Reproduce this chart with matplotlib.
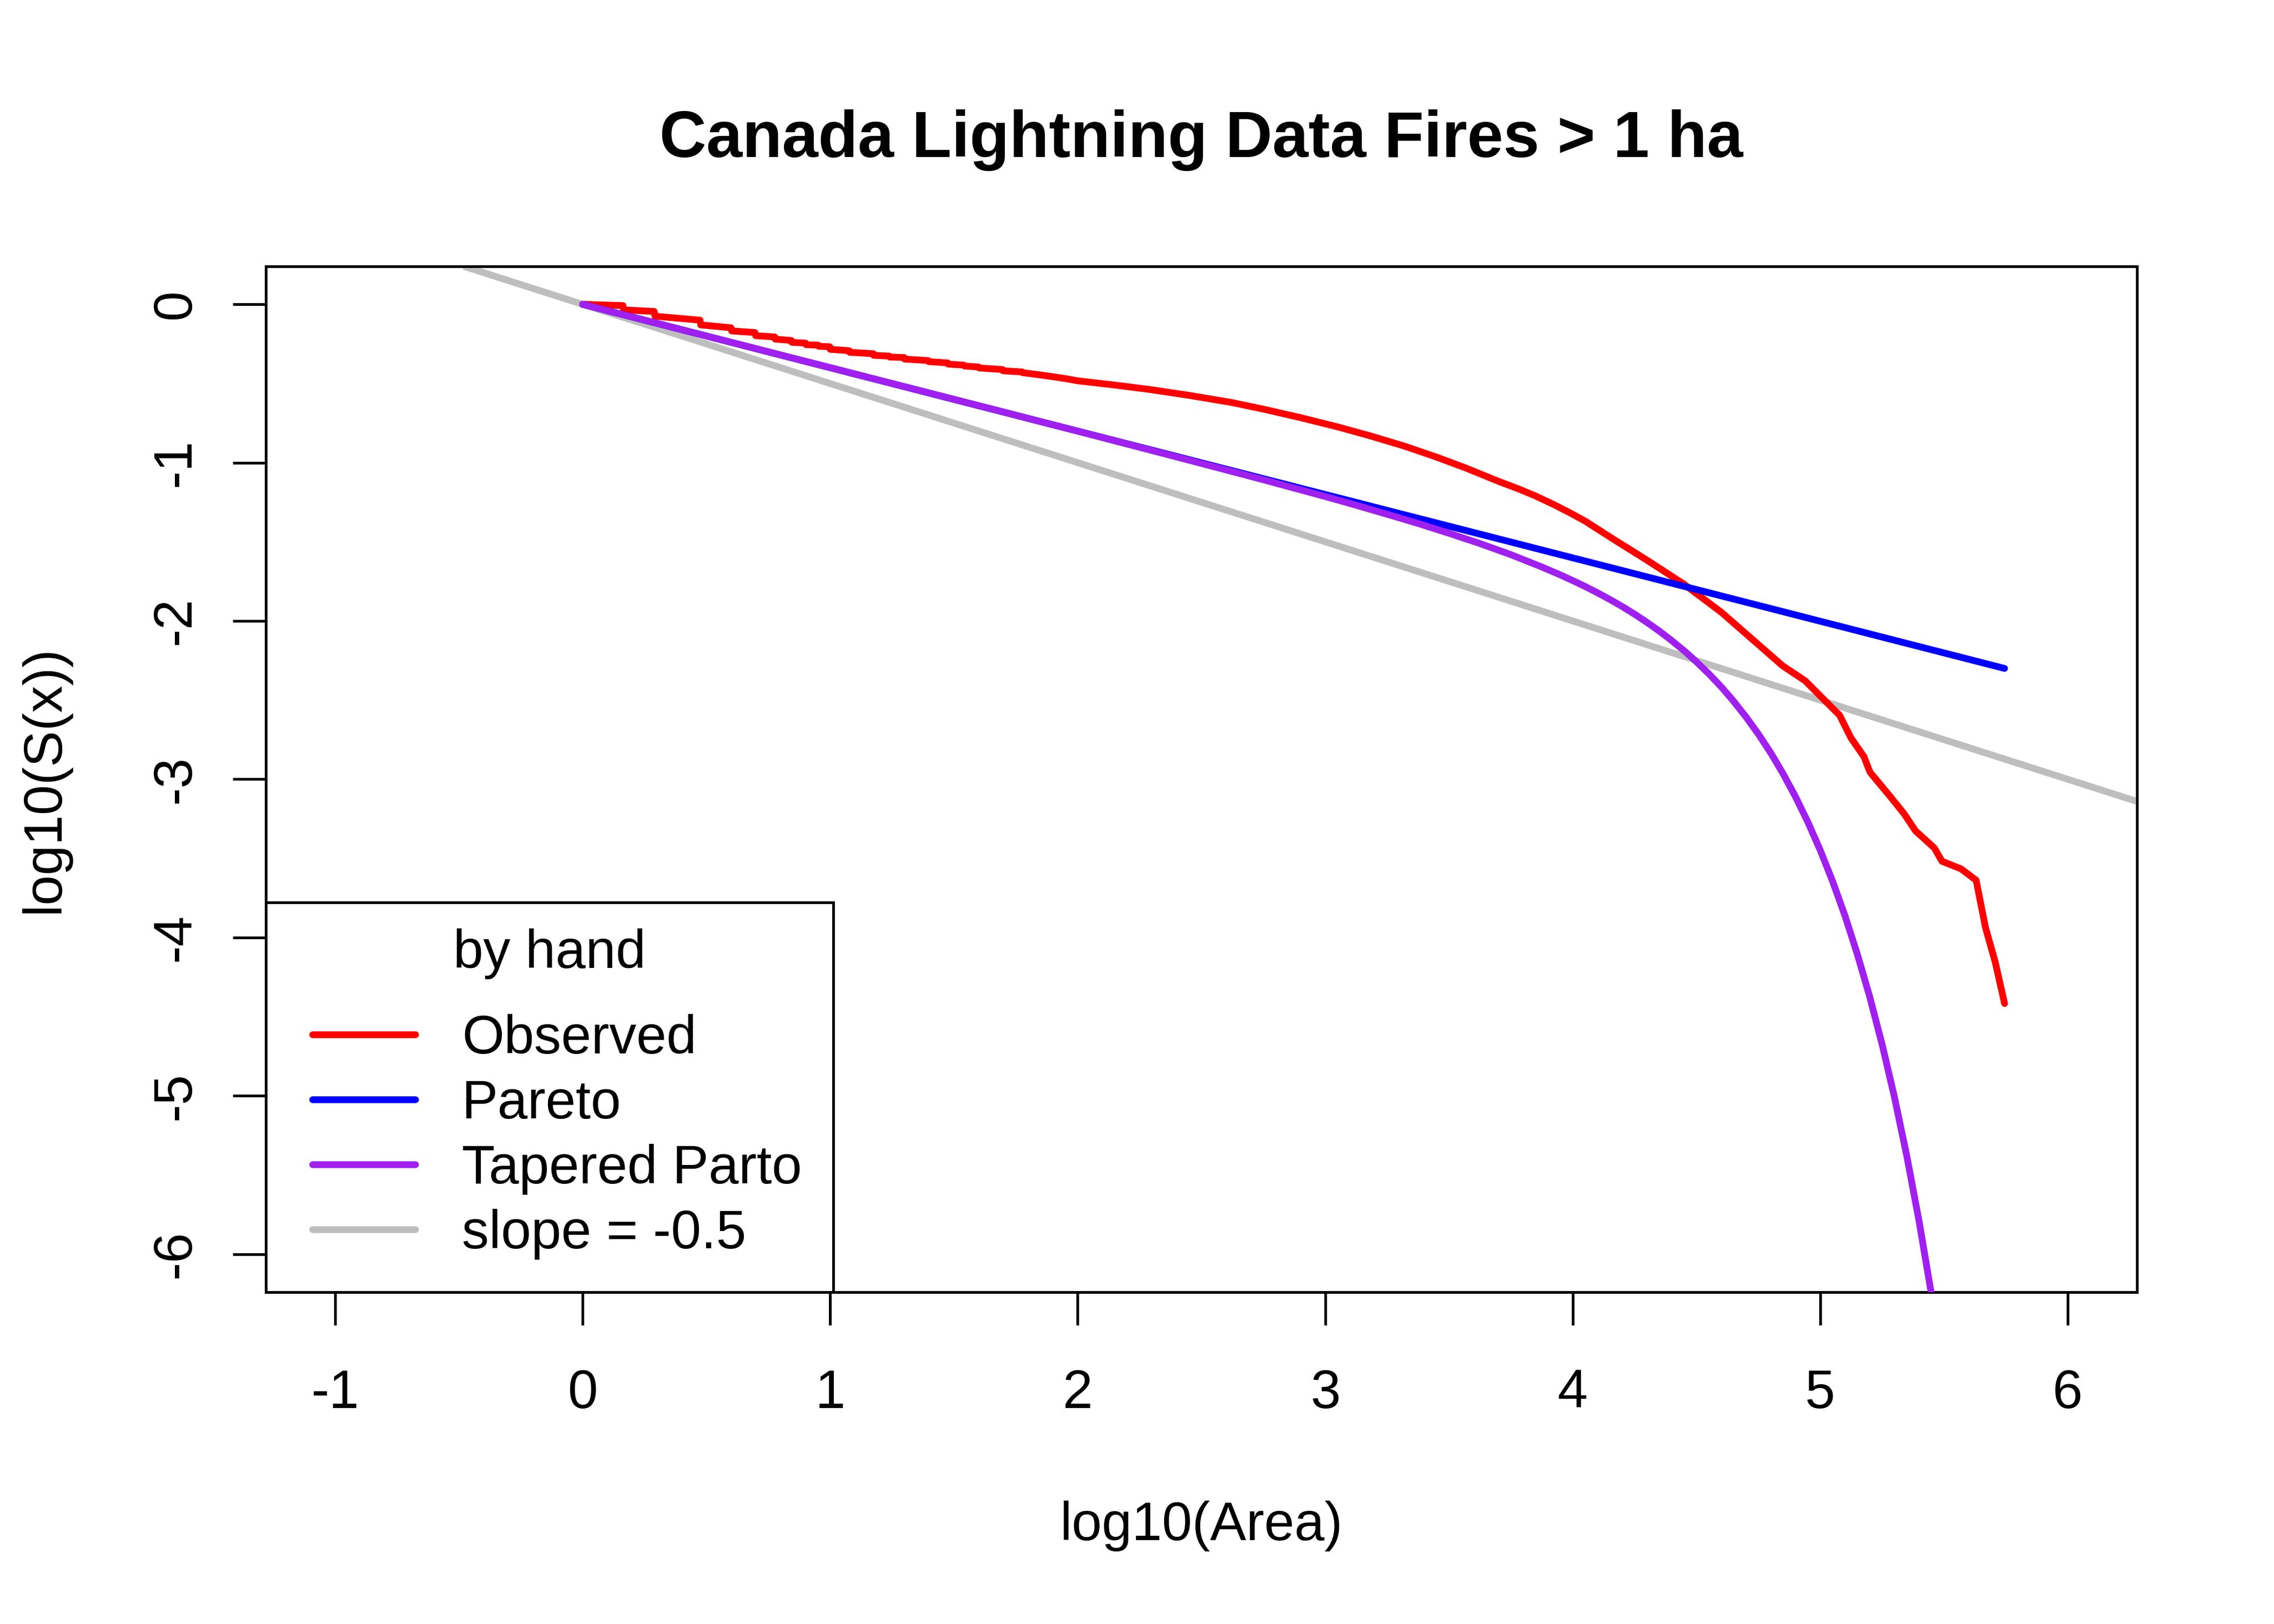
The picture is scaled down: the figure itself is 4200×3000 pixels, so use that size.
import matplotlib
matplotlib.use("Agg")
import matplotlib.pyplot as plt
from matplotlib.patches import Rectangle
from matplotlib.lines import Line2D

plt.rcParams['font.family'] = ['Liberation Sans', 'DejaVu Sans']
plt.rcParams['axes.unicode_minus'] = False

# ---------------- data ----------------
title = "Canada Lightning Data Fires > 1 ha"
xlabel = "log10(Area)"
ylabel = "log10(S(x))"
legend_title = "by hand"
series_names = ["Observed", "Pareto", "Tapered Parto", "slope = -0.5"]
series_colors = ["#FF0000", "#0000FF", "#A020F0", "#BEBEBE"]

x_ticks = [-1, 0, 1, 2, 3, 4, 5, 6]
y_ticks = [0, -1, -2, -3, -4, -5, -6]

# Observed empirical survival curve (log10 area, log10 S)
obs_x = [0.000, 0.163, 0.166, 0.289, 0.292, 0.474, 0.477, 0.599, 0.602, 0.696,
         0.699, 0.776, 0.778, 0.843, 0.845, 0.901, 0.903, 0.952, 0.954, 0.998,
         1.000, 1.077, 1.079, 1.174, 1.176, 1.239, 1.241, 1.299, 1.301, 1.396,
         1.398, 1.475, 1.477, 1.540, 1.544, 1.600, 1.602, 1.697, 1.699, 1.776,
         1.778, 1.850, 1.903, 1.954, 2.000, 2.150, 2.287, 2.450, 2.622, 2.750,
         2.901, 3.050, 3.180, 3.319, 3.450, 3.570, 3.700, 3.780, 3.849, 3.920,
         3.988, 4.050, 4.172, 4.295, 4.449, 4.602, 4.725, 4.848, 4.940, 5.001,
         5.078, 5.124, 5.177, 5.201, 5.277, 5.339, 5.385, 5.461, 5.492, 5.569,
         5.630, 5.668, 5.707, 5.745]
obs_y = [0.000, -0.008, -0.035, -0.045, -0.075, -0.100, -0.130, -0.148, -0.168, -0.178,
         -0.198, -0.206, -0.220, -0.228, -0.240, -0.245, -0.255, -0.258, -0.265, -0.268,
         -0.284, -0.293, -0.303, -0.312, -0.322, -0.327, -0.333, -0.336, -0.346, -0.355,
         -0.362, -0.370, -0.378, -0.384, -0.390, -0.396, -0.402, -0.412, -0.420, -0.427,
         -0.432, -0.446, -0.458, -0.470, -0.483, -0.510, -0.537, -0.575, -0.620, -0.662,
         -0.716, -0.774, -0.830, -0.895, -0.965, -1.035, -1.118, -1.165, -1.210, -1.262,
         -1.316, -1.369, -1.491, -1.611, -1.767, -1.947, -2.115, -2.283, -2.379, -2.475,
         -2.595, -2.738, -2.858, -2.955, -3.098, -3.218, -3.326, -3.434, -3.518, -3.566,
         -3.638, -3.938, -4.154, -4.417]

# Pareto fit (straight line end points)
pareto_x = [0.0, 5.745]
pareto_y = [0.0, -2.30]

# Tapered Pareto fit
tap_x = [0.0, 0.5, 1.0, 1.5, 2.0, 2.5, 2.75, 3.0, 3.125, 3.25,
         3.375, 3.5, 3.625, 3.75, 3.875, 3.95, 4.0, 4.05, 4.1, 4.15,
         4.2, 4.25, 4.3, 4.35, 4.4, 4.45, 4.5, 4.55, 4.6, 4.65,
         4.7, 4.75, 4.8, 4.85, 4.9, 4.95, 5.0, 5.05, 5.1, 5.15,
         5.2, 5.25, 5.3, 5.35, 5.4, 5.45, 5.5]
tap_y = [0.000, -0.200, -0.400, -0.600, -0.801, -1.005, -1.108, -1.214, -1.269, -1.326,
         -1.384, -1.446, -1.511, -1.581, -1.659, -1.709, -1.745, -1.782, -1.822, -1.864,
         -1.909, -1.957, -2.009, -2.064, -2.124, -2.188, -2.258, -2.334, -2.416, -2.507,
         -2.606, -2.714, -2.833, -2.965, -3.110, -3.270, -3.448, -3.644, -3.862, -4.105,
         -4.374, -4.674, -5.008, -5.381, -5.796, -6.260, -6.778]

# reference line: slope -0.5 through origin
ref_slope = -0.5

# ---------------- figure ----------------
DPI = 600
fig = plt.figure(figsize=(7, 5), dpi=DPI)
ax = fig.add_axes([491 / 4200, 1 - 2387 / 3000, 3456 / 4200, 1895 / 3000])

lw = 1.5
ax.axline((0, 0), slope=ref_slope, color=series_colors[3], lw=lw,
          solid_capstyle='butt', zorder=2)
ax.plot(obs_x, obs_y, color=series_colors[0], lw=lw, solid_capstyle='round',
        solid_joinstyle='round', zorder=3)
ax.plot(pareto_x, pareto_y, color=series_colors[1], lw=lw, solid_capstyle='round',
        zorder=4)
ax.plot(tap_x, tap_y, color=series_colors[2], lw=lw, solid_capstyle='round',
        solid_joinstyle='round', zorder=5)

ax.set_xlim(-1.28, 6.28)
ax.set_ylim(-6.24, 0.24)

frame_lw = 0.6
for s in ax.spines.values():
    s.set_linewidth(frame_lw)
    s.set_color('black')

ax.set_xticks(x_ticks)
ax.set_xticklabels([str(v) for v in x_ticks])
ax.set_yticks(y_ticks)
ax.set_yticklabels([str(v) for v in y_ticks], rotation=90, va='center')
ax.tick_params(axis='both', direction='out', length=7.3, width=frame_lw,
               labelsize=12, color='black')
ax.tick_params(axis='x', pad=9.6)
ax.tick_params(axis='y', pad=7.0)

# axis labels and title
ax.set_xlabel(xlabel, fontsize=12)
ax.xaxis.label.set_va('baseline')
ax.xaxis.set_label_coords(0.5, (2387 - 2845) / 1895)
ax.set_ylabel(ylabel, fontsize=12)
ax.yaxis.label.set_va('baseline')
ax.yaxis.set_label_coords((108 - 491) / 3456, 0.5)
ax.set_title(title, fontsize=14.4, fontweight='bold', y=(2387 - 290) / 1895,
             va='baseline', pad=0)

# legend (frame + title + entries)
box_w = (1539 - 491) / 3456
box_h = (2387 - 1667) / 1895
ax.add_patch(Rectangle((0, 0), box_w, box_h, transform=ax.transAxes,
                       facecolor='white', edgecolor='black', lw=frame_lw,
                       zorder=10, clip_on=False))
ax.text(box_w / 2, (2387 - 1788) / 1895, legend_title, transform=ax.transAxes,
        ha='center', va='baseline', fontsize=12, zorder=11)
handles = [Line2D([], [], color=c, lw=lw, solid_capstyle='round') for c in series_colors]
leg = ax.legend(handles, series_names, loc='upper left',
                bbox_to_anchor=((577 - 491) / 3456, (2387 - 1873) / 1895),
                frameon=False, fontsize=12, borderpad=0, borderaxespad=0,
                handlelength=1.9, handletextpad=0.86, labelspacing=0.26)
leg.set_zorder(12)

fig.savefig("out.png", dpi=DPI, facecolor='white')
